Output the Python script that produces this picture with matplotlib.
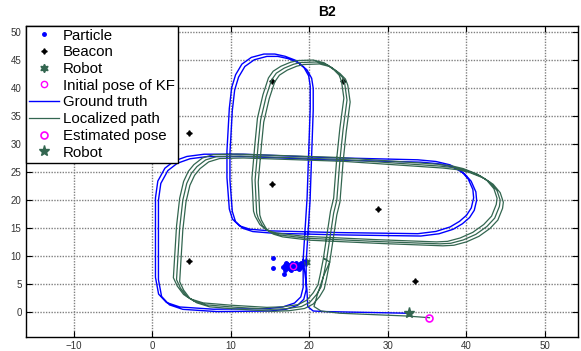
import numpy as np
import matplotlib.pyplot as plt

plt.rcParams['font.family'] = ['Liberation Sans', 'DejaVu Sans']

# ground truth, one lap (starts at the robot, heading down)
truth_x = [19.6, 19.6, 19.3, 18.5, 17.0, 15.0, 8.2, 3.9, 2.2, 1.2, 0.8, 0.8, 1.1, 2.0, 3.2,
           4.8, 7.0, 12.0, 22.6, 34.2, 36.5, 38.3, 39.7, 40.6, 41.2, 41.3, 41.0, 40.4, 39.5,
           38.3, 36.5, 34.2, 24.0, 15.4, 12.8, 11.5, 10.6, 10.2, 9.9, 9.9, 10.2, 10.5, 11.0,
           11.8, 13.0, 14.6, 16.0, 17.3, 18.6, 19.7, 20.3, 20.5, 20.5, 20.1, 19.6]
truth_y = [9.0, 4.0, 2.3, 1.2, 0.5, 0.2, 0.1, 0.5, 1.3, 2.8, 5.8, 20.0, 23.0, 25.3, 26.6,
           27.4, 27.8, 27.8, 27.2, 26.8, 26.5, 25.9, 24.8, 23.4, 21.5, 20.0, 18.2, 16.9, 15.8,
           14.8, 14.0, 13.6, 13.8, 14.1, 14.4, 15.0, 16.2, 18.0, 23.6, 28.4, 36.0, 39.7, 42.0,
           43.9, 45.1, 45.7, 45.7, 45.3, 44.6, 43.3, 41.8, 40.0, 36.1, 20.0, 9.0]
truth_lap_dx = [0.0, -0.38]
truth_lap_dy = [0.0, 0.42]
truth_end_x = [19.7, 19.8, 20.5, 22.0, 32.6]
truth_end_y = [4.0, 1.0, 0.2, 0.1, -0.2]

# localized path, one lap
loc_x = [22.2, 21.8, 21.5, 20.9, 20.1, 19.0, 17.0, 15.0, 10.3, 6.9, 5.3, 4.4, 3.6, 3.1, 3.5,
         3.9, 4.4, 5.0, 5.7, 6.8, 8.2, 11.2, 23.9, 36.6, 38.5, 40.0, 41.8, 43.0, 43.9, 44.3,
         44.2, 43.6, 42.6, 41.2, 39.6, 38.0, 36.6, 29.0, 22.6, 19.7, 16.2, 15.0, 14.1, 13.5,
         13.3, 13.1, 13.5, 13.8, 14.5, 15.2, 15.8, 16.8, 18.0, 18.9, 20.9, 22.3, 23.5, 24.2,
         24.5, 24.8, 24.3, 23.9, 23.5, 23.1, 22.2]
loc_y = [9.3, 6.4, 4.5, 3.1, 1.8, 1.0, 0.6, 0.5, 0.9, 1.3, 2.0, 2.8, 4.3, 5.8, 15.0,
         20.0, 23.0, 24.8, 26.0, 27.2, 27.8, 27.9, 27.3, 26.1, 25.8, 25.3, 24.3, 23.2, 21.7, 20.0,
         18.9, 16.8, 15.3, 13.9, 12.9, 12.3, 12.2, 12.6, 13.0, 13.2, 13.8, 14.3, 15.3, 16.8,
         17.7, 23.6, 30.0, 34.3, 38.5, 41.5, 42.7, 43.6, 44.3, 44.6, 44.7, 44.2, 43.0, 42.0,
         40.9, 37.9, 32.6, 27.2, 20.0, 17.7, 9.3]
loc_lap_dx = [0.0, -0.4, 0.4]
loc_lap_dy = [0.0, 0.35, -0.35]
loc_end_x = [21.8, 21.0, 20.6, 21.5, 23.9, 32.5, 35.3]
loc_end_y = [6.4, 3.0, 1.0, 0.2, -0.2, -0.7, -1.0]

particle_x = [15.4, 15.4, 16.8, 16.7, 16.9, 17.0, 17.2, 17.3, 17.5, 17.6, 17.8, 18.0, 18.1,
              18.3, 18.5, 18.6, 18.8, 19.0, 19.1, 17.1, 17.4, 17.9, 18.2, 18.7, 16.9, 17.6,
              18.4, 18.9, 17.0, 17.7, 17.3, 18.0, 18.5, 17.8, 18.2]
particle_y = [9.6, 7.9, 6.8, 8.0, 8.4, 7.8, 8.6, 8.1, 7.7, 8.5, 8.8, 7.9, 8.4, 8.7, 7.8,
              8.3, 8.6, 8.0, 8.4, 8.2, 7.9, 8.0, 8.6, 7.7, 7.6, 8.3, 8.1, 8.7, 8.7, 7.6,
              8.4, 8.3, 8.1, 8.0, 7.8]

beacon_x = [4.7, 15.3, 24.3, 15.3, 28.8, 4.7, 33.5]
beacon_y = [32.1, 41.3, 41.3, 22.9, 18.4, 9.2, 5.5]

robot_start = (19.6, 9.0)
kf_start = (17.9, 8.3)
robot_end = (32.7, -0.2)
est_end = (35.3, -1.0)

green = '#336650'

fig = plt.figure(figsize=(5.81, 3.51), dpi=100)
ax = fig.add_axes([0.0442, 0.039, 0.9506, 0.888])

truth_px, truth_py = [], []
for dx, dy in zip(truth_lap_dx, truth_lap_dy):
    truth_px += [v + dx for v in truth_x]
    truth_py += [v + dy for v in truth_y]
truth_px += truth_end_x
truth_py += truth_end_y

loc_px, loc_py = [], []
for dx, dy in zip(loc_lap_dx, loc_lap_dy):
    loc_px += [v + dx for v in loc_x]
    loc_py += [v + dy for v in loc_y]
loc_px += loc_end_x
loc_py += loc_end_y

h_part, = ax.plot(particle_x, particle_y, '.', color='blue', ms=5, ls='none')
h_beac, = ax.plot(beacon_x, beacon_y, marker=(4, 1, 0), color='black', ms=4, ls='none')
h_rob0, = ax.plot(*robot_start, marker=(6, 1, 0), color=green, ms=6, ls='none')
h_kf, = ax.plot(*kf_start, 'o', mfc='none', mec='magenta', ms=4.5, mew=1.0, ls='none')
h_gt, = ax.plot(truth_px, truth_py, color='blue', lw=1.0)
h_loc, = ax.plot(loc_px, loc_py, color=green, lw=0.9)
h_est, = ax.plot(*est_end, 'o', mfc='none', mec='magenta', ms=5, mew=1.2, ls='none')
h_rob1, = ax.plot(*robot_end, marker='*', color=green, ms=8, ls='none')

ax.set_xlim(-16.1, 54.2)
ax.set_ylim(-4.5, 51.2)
ax.set_xticks(np.arange(-10, 51, 10))
ax.set_yticks(np.arange(0, 51, 5))
ax.tick_params(direction='in', length=4, labelsize=7, labelcolor='#333333',
               top=True, right=True, pad=3)
ax.grid(True, color='0.5', ls=(0, (1, 1)), lw=1.0)
for s in ax.spines.values():
    s.set_linewidth(1.0)

leg = ax.legend([h_part, h_beac, h_rob0, h_kf, h_gt, h_loc, h_est, h_rob1],
                ['Particle', 'Beacon', 'Robot', 'Initial pose of KF', 'Ground truth',
                 'Localized path', 'Estimated pose', 'Robot'],
                loc='upper left', borderaxespad=0, fontsize=10.8, labelspacing=0.18,
                handlelength=2.0, handletextpad=0.3, borderpad=0.2,
                fancybox=False, framealpha=1, edgecolor='black')
leg.get_frame().set_linewidth(1.0)

fig.text(0.562, 0.965, 'B2', ha='center', va='center', fontsize=10, fontweight='bold')

fig.savefig('out.png', dpi=100)
